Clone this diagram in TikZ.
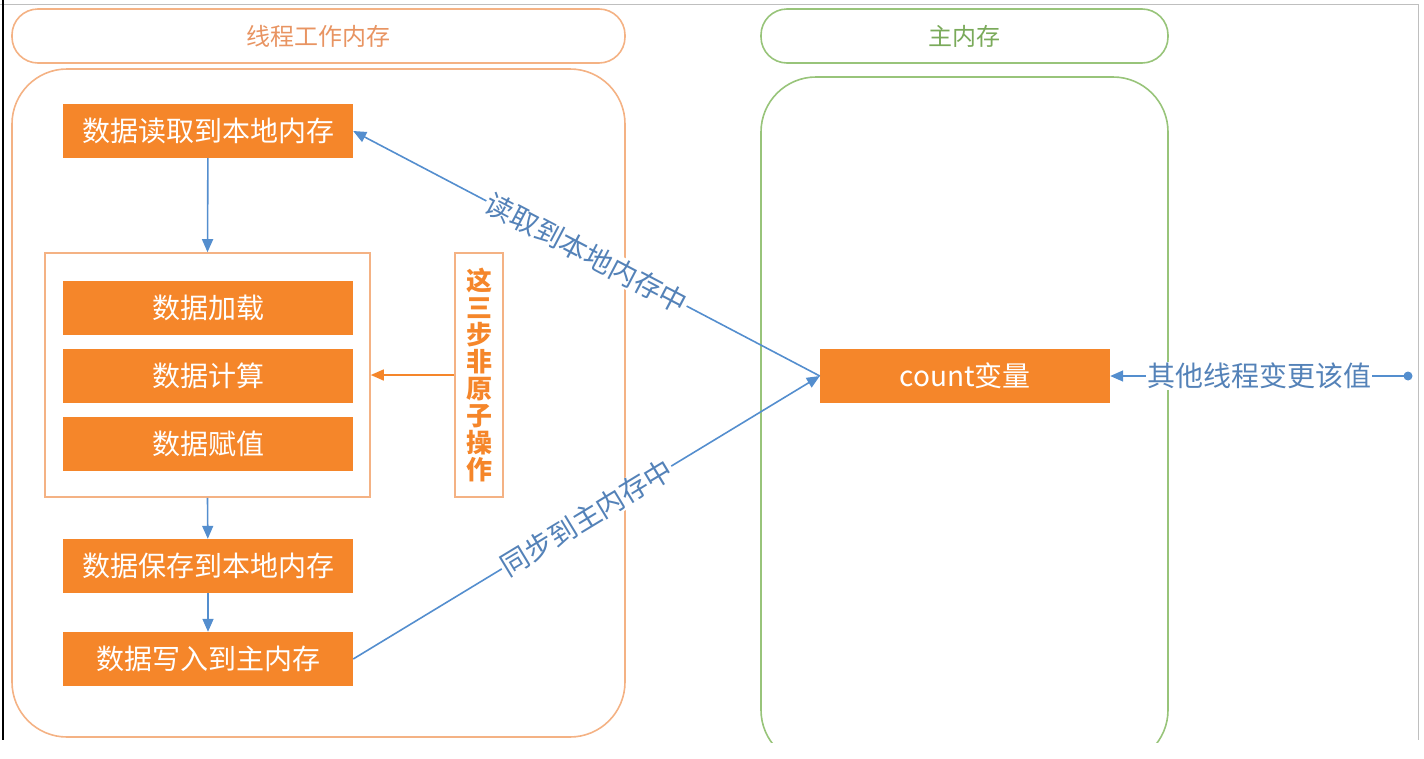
\documentclass[tikz,border=0pt]{standalone}
\usepackage{fontspec}
\setmainfont{Noto Sans CJK SC}
\usetikzlibrary{arrows.meta}
\definecolor{orfill}{RGB}{245,134,42}
\definecolor{orline}{RGB}{244,178,132}
\definecolor{ortext}{RGB}{232,148,98}
\definecolor{grline}{RGB}{152,196,122}
\definecolor{grtext}{RGB}{122,170,90}
\definecolor{bl}{RGB}{84,142,206}
\definecolor{bltext}{RGB}{84,130,184}
\begin{document}
\begin{tikzpicture}[x=1pt,y=-1pt,
  stepbox/.style={fill=orfill, text=white, minimum width=290pt, minimum height=54pt, inner sep=0pt, font=\fontsize{28}{30}\selectfont},
  pill/.style={draw=orline, line width=1.6pt, rounded corners=26pt, minimum height=54pt, inner sep=0pt, font=\fontsize{24}{26}\selectfont},
  bigbox/.style={draw=orline, line width=1.6pt, rounded corners=55pt, inner sep=0pt},
  grpbox/.style={draw=orline, line width=1.6pt, inner sep=0pt},
  barrow/.style={draw=bl, line width=1.6pt, -{Triangle[length=13pt,width=11pt]}},
  oarrow/.style={draw=orfill, line width=1.6pt, -{Triangle[length=13pt,width=11pt]}},
  lbl/.style={fill=white, text=bltext, inner sep=1pt, font=\fontsize{28}{30}\selectfont}
]
\useasboundingbox (0,0) rectangle (1424,758);
% screenshot frame
\draw[black!25, line width=1pt] (0,4) -- (1418,4) -- (1418,740);
\draw[black, line width=1.6pt] (3,0) -- (3,740);

% left column
\node[pill, text=ortext, minimum width=613pt] (ltitle) at (318.5,36) {线程工作内存};
\node[bigbox, minimum width=613pt, minimum height=668pt] (lbig) at (318.5,403) {};

% right column
\node[pill, draw=grline, text=grtext, minimum width=407pt] (rtitle) at (964.5,36) {主内存};
\begin{scope}
\clip (0,0) rectangle (1424,742);
\node[bigbox, draw=grline, minimum width=407pt, minimum height=688pt] (rbig) at (964.5,421) {};
\end{scope}

% steps
\node[stepbox] (b1) at (208,131) {数据读取到本地内存};
\node[grpbox, minimum width=325pt, minimum height=244pt] (grp) at (207.5,375) {};
\node[stepbox] (b2) at (208,308) {数据加载};
\node[stepbox] (b3) at (208,376) {数据计算};
\node[stepbox] (b4) at (208,444) {数据赋值};
\node[stepbox] (b5) at (208,566) {数据保存到本地内存};
\node[stepbox] (b6) at (208,659) {数据写入到主内存};
\node[grpbox, minimum width=48pt, minimum height=244pt, text=orfill, align=center,
  font=\fontsize{26}{27}\selectfont\bfseries] (side) at (479,375)
  {这\\三\\步\\非\\原\\子\\操\\作};

\node[stepbox] (cnt) at (965,376) {count变量};
\coordinate (dot) at (1408,376);

% connectors
\draw[barrow] (b1) -- (grp.north);
\draw[barrow] (grp.south) -- (b5);
\draw[barrow] (b5) -- (b6);
\draw[oarrow] (side.west) -- (grp.east);
\draw[barrow] (cnt.west) -- node[lbl, sloped] {读取到本地内存中} (b1.east);
\draw[barrow] (b6.east) -- node[lbl, sloped] {同步到主内存中} (cnt.west);
\fill[bl] (dot) circle (4.5pt);
\draw[barrow] (dot) -- node[lbl] {其他线程变更该值} (cnt.east);
\end{tikzpicture}
\end{document}
